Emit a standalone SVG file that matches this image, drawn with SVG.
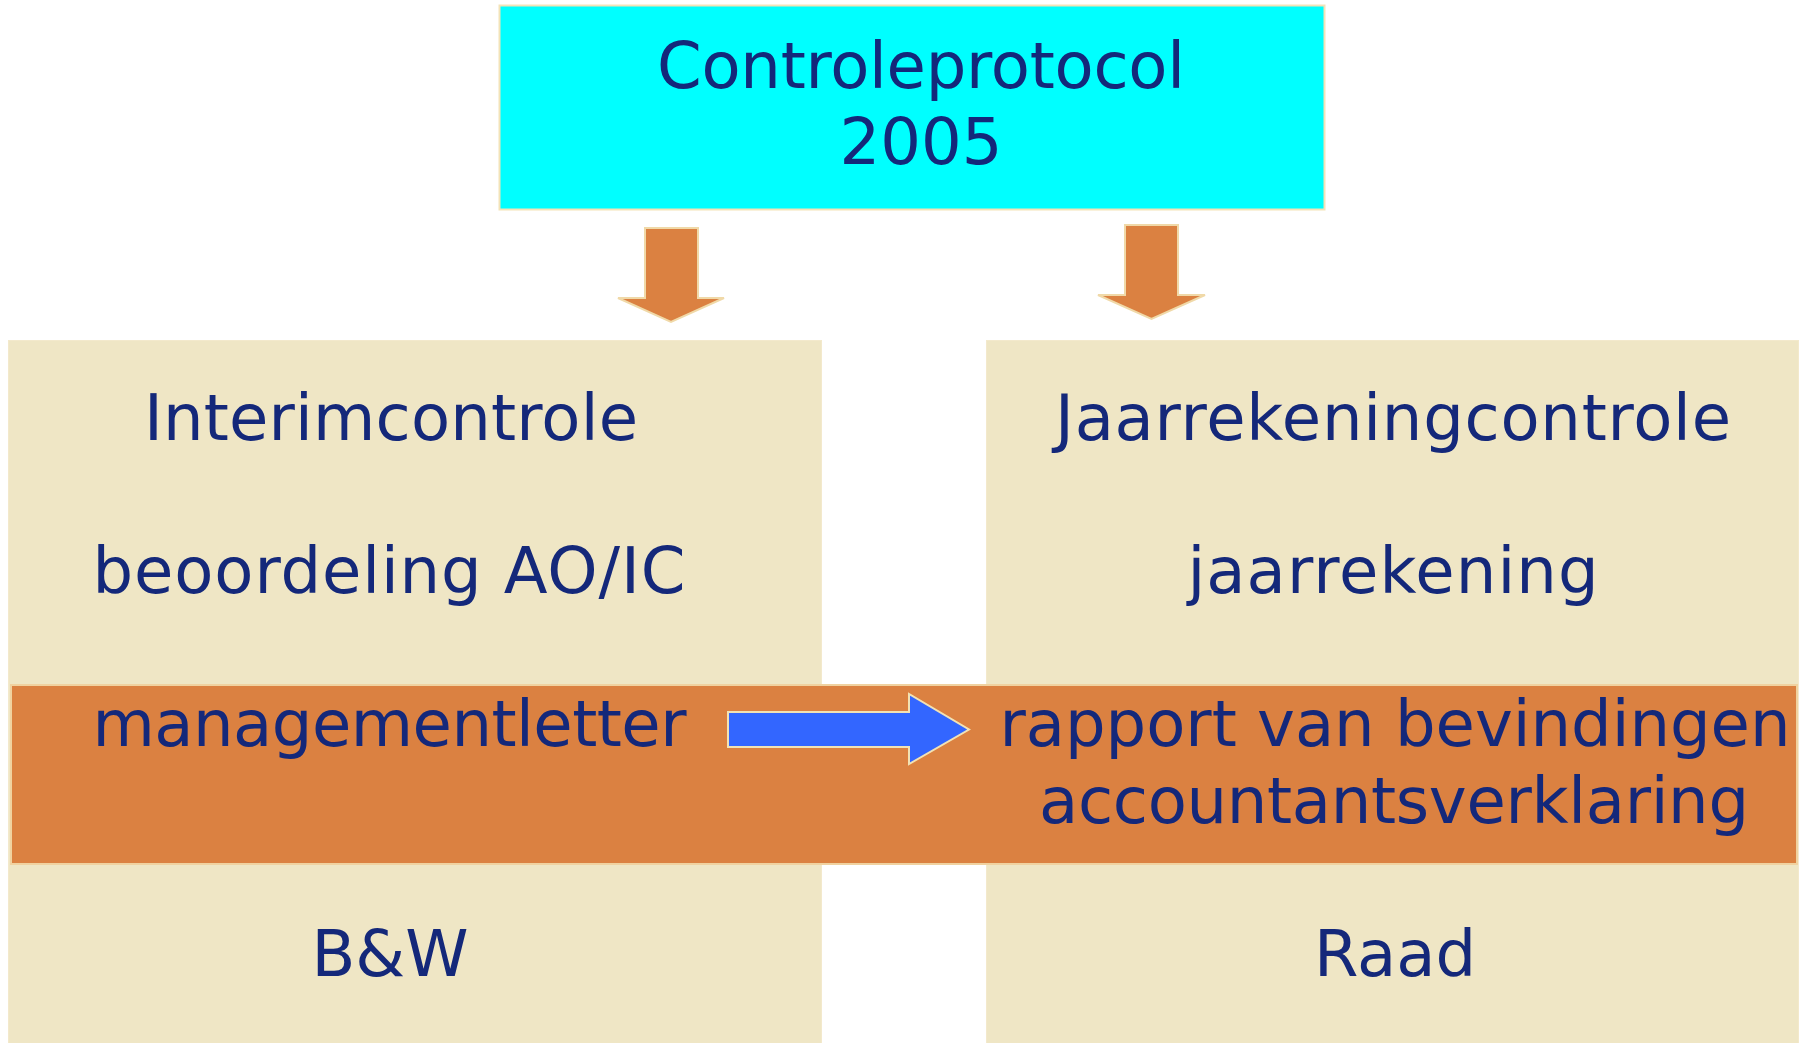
<svg xmlns="http://www.w3.org/2000/svg" width="1810" height="1043" viewBox="0 0 1810 1043">
<style>
.t{font-family:"DejaVu Sans","Verdana",sans-serif;font-size:64px;fill:#14287a;text-anchor:middle}
.beige{fill:#efe6c5;stroke:#f3e9cc;stroke-width:1}
.orange{fill:#db8141;stroke:#f0d9a8;stroke-width:2}
.blue{fill:#3366ff;stroke:#f2e2b4;stroke-width:2}
</style>
<rect width="1810" height="1043" fill="#ffffff"/>
<g id="left-box">
<rect class="beige" x="8.5" y="340.5" width="813" height="710"/>
</g>
<g id="right-box">
<rect class="beige" x="986.5" y="340.5" width="812" height="710"/>
</g>
<g id="band">
<rect x="11" y="685" width="1786" height="179" fill="#db8141" stroke="#f0d2a0" stroke-width="2"/>
</g>
<g id="top-box">
<rect x="499.5" y="5.5" width="825" height="204" fill="#00ffff" stroke="#f3e3b8" stroke-width="2"/>
<text class="t" x="921" y="88" textLength="528">Controleprotocol</text>
<text class="t" x="921" y="164">2005</text>
</g>
<g id="connectors">
<polygon class="orange" points="645,228 698,228 698,298 724,298 671,322 618,298 645,298"/>
<polygon class="orange" points="1125,225 1178,225 1178,295 1205,295 1151.5,319 1098,295 1125,295"/>
<polygon class="blue" points="728,712 909,712 909,694 969,729.5 909,764 909,747 728,747"/>
</g>
<g id="left-texts">
<text class="t" x="391" y="440" textLength="494">Interimcontrole</text>
<text class="t" x="389" y="593" textLength="593">beoordeling AO/IC</text>
<text class="t" x="389.5" y="746" textLength="594">managementletter</text>
<text class="t" x="390" y="976">B&amp;W</text>
</g>
<g id="right-texts">
<text class="t" x="1393" y="440" textLength="676">Jaarrekeningcontrole</text>
<text class="t" x="1393" y="593" textLength="411">jaarrekening</text>
<text class="t" x="1395" y="746" textLength="791">rapport van bevindingen</text>
<text class="t" x="1394" y="823" textLength="710">accountantsverklaring</text>
<text class="t" x="1395" y="976">Raad</text>
</g>
</svg>
